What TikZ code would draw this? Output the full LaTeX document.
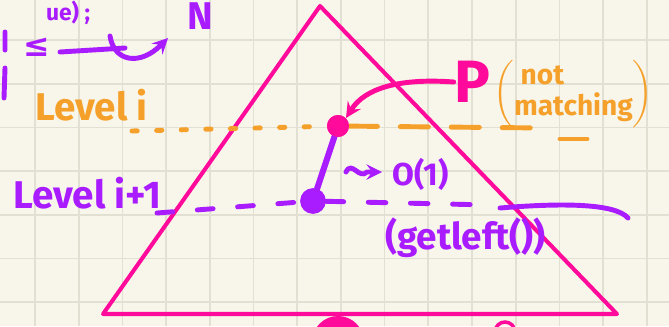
\documentclass[tikz,border=0pt]{standalone}
\usepackage{amsmath,amssymb}
\usepackage{fontspec}
\setmainfont{Fira Sans}
\newfontfamily\symfont{DejaVu Sans}
\usetikzlibrary{arrows,shapes}
\definecolor{paper}{HTML}{F8F6EB}
\definecolor{gridc}{HTML}{E2E0D3}
\definecolor{mag}{HTML}{FF0A9A}
\definecolor{org}{HTML}{F5A02A}
\definecolor{pur}{HTML}{A81CFF}
\tikzstyle{hand}=[line width=2.8pt,line cap=round,line join=round]
\tikzstyle{pdot}=[circle,fill=mag,inner sep=0pt,minimum size=12.5pt]
\tikzstyle{cdot}=[circle,fill=pur,inner sep=0pt,minimum size=14.5pt]
\tikzstyle{lbl}=[inner sep=0pt,font=\fontsize{22}{24}\selectfont\bfseries]
\tikzstyle{sm}=[inner sep=0pt,font=\fontsize{18}{20}\selectfont\bfseries]

\begin{document}
\begin{tikzpicture}[x=0.02cm,y=-0.02cm,>=stealth]
\fill[paper] (0,0) rectangle (669,326);
\useasboundingbox (0,0) rectangle (669,326);
\clip (0,0) rectangle (669,326);
\foreach \x in {35,78.7,...,669} \draw[gridc,line width=1pt] (\x,0)--(\x,326);
\foreach \y in {-3.7,40,...,326} \draw[gridc,line width=1pt] (0,\y)--(669,\y);
% triangle
\coordinate (top) at (320,6);
\coordinate (bl) at (103,314);
\coordinate (br) at (617,314);
\draw[mag,line width=2.3pt,line join=round] (top)--(bl)--(br)--cycle;
\fill[mag] (338,342) circle (0.52cm);
\draw[mag,line width=2pt] (505,332) circle (0.2cm);
% nodes
\node[pdot] (pnode) at (338,126) {};
\node[cdot] (cnode) at (313,201) {};
\coordinate (oi) at (132,131);
\coordinate (oe) at (545,128);
\coordinate (pi) at (157,213);
\coordinate (pe) at (490,205);
% levels
\draw[org,hand,dash pattern=on 3pt off 11pt] (oi)--(pnode);
\draw[org,hand,dash pattern=on 16pt off 13pt] (pnode)--(oe);
\draw[org,hand] (560,139)--(587,139);
\draw[pur,hand,dash pattern=on 9pt off 14pt] (pi)--(cnode);
\draw[pur,hand,dash pattern=on 10pt off 14pt] (cnode)--(pe);
\draw[pur,hand] (500,208) .. controls (560,203) and (615,203) .. (628,218);
\draw[pur,line width=3.5pt,line cap=round] (pnode)--(cnode);
\node[pdot] at (pnode) {};
\node[cdot] at (cnode) {};
\node[lbl,org,anchor=base west] (levi) at (35,120) {Level i};
\node[lbl,pur,anchor=base west] (levii) at (13,208) {Level i+1};
% labels
\node[mag,inner sep=0pt,font=\fontsize{34}{36}\selectfont\bfseries] (Ptxt) at (472,82) {P};
\draw[mag,hand,->] (Ptxt.west) .. controls (400,78) and (365,88) .. (pnode.north east);
\node[org,anchor=west,inner sep=0pt,font=\fontsize{16}{17}\selectfont\bfseries] (nm) at (493,94)
  {$\left(\vcenter{\hbox{\begin{tabular}{@{}l@{}}\ not\\matching\end{tabular}}}\right)$};
\coordinate (sq) at (346,172);
\draw[pur,hand,->] (sq) .. controls (352,160) and (359,180) .. (367,172) -- (382,172);
\node[sm,pur,anchor=west] (cost) at (392,174) {O(1)};
\node[pur,anchor=west,inner sep=0pt,font=\fontsize{21}{23}\selectfont\bfseries] (gl) at (385,238) {(getleft())};
% top left
\node[pur,inner sep=0pt,font=\fontsize{13}{14}\selectfont\bfseries,anchor=north] (frag) at (68,1) {ue) ;};
\node[lbl,pur] (N) at (200,16) {N};
\node[pur,inner sep=0pt,font=\fontsize{18}{20}\selectfont\symfont\bfseries] (le) at (37,47) {≤};
\draw[pur,hand] (5,32)--(5,50) (5,68)--(4,98);
\draw[pur,hand] (60,52)--(125,48);
\draw[pur,hand,->] (110,36) .. controls (114,62) and (140,66) .. (168,38);
\end{tikzpicture}
\end{document}
